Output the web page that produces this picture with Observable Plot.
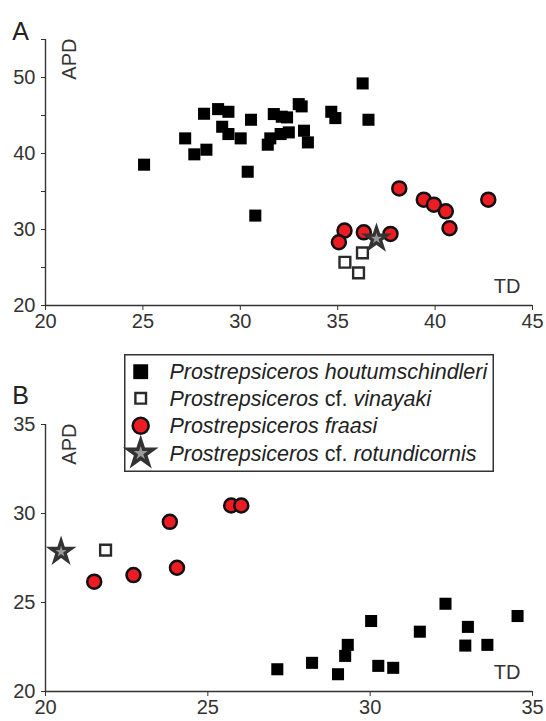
<!DOCTYPE html>
<html>
<head>
<meta charset="utf-8">
<script src="https://cdn.jsdelivr.net/npm/d3@7"></script>
<script src="https://cdn.jsdelivr.net/npm/@observablehq/plot@0.6"></script>
<style>
  html, body { margin: 0; padding: 0; background: #fff; }
  #wrap { position: relative; width: 546px; height: 721px; font-family: "Liberation Sans", Arial, Helvetica, sans-serif; }
  #panelA { position: absolute; left: 0; top: 0; }
  #panelB { position: absolute; left: 0; top: 340px; }
  #legend { position: absolute; left: 124px; top: 354px; }
</style>
</head>
<body>
<div id="wrap">
  <div id="panelA"></div>
  <div id="panelB"></div>
  <div id="legend"></div>
</div>
<script>
// ---------- Data ----------
const species = [
  "Prostrepsiceros houtumschindleri",
  "Prostrepsiceros cf. vinayaki",
  "Prostrepsiceros fraasi",
  "Prostrepsiceros cf. rotundicornis"
];

// Panel A
const aHoutTD  = [25.06, 27.17, 27.64, 28.26, 28.14, 28.86, 29.39, 29.07, 29.39, 30.02, 30.55, 30.38, 30.77, 31.72, 32.13, 32.40, 31.41, 31.54, 32.07, 32.49, 33.00, 33.15, 33.27, 33.47, 34.67, 34.88, 36.28, 36.58];
const aHoutAPD = [38.53, 41.99, 39.89, 40.50, 45.23, 45.84, 45.49, 43.52, 42.56, 41.99, 44.44, 37.60, 31.83, 45.19, 44.84, 44.75, 41.16, 41.99, 42.56, 42.78, 46.50, 46.20, 43.00, 41.46, 45.49, 44.66, 49.22, 44.44];
const aVinTD   = [35.37, 36.07, 36.27];
const aVinAPD  = [25.69, 24.29, 26.93];
const aFraTD   = [38.16, 39.42, 39.94, 40.55, 40.74, 42.73, 35.35, 35.06, 36.34, 37.71];
const aFraAPD  = [35.41, 33.93, 33.27, 32.39, 30.16, 33.93, 29.86, 28.32, 29.63, 29.42];
const aRotTD   = [36.99];
const aRotAPD  = [28.80];

// Panel B
const bHoutTD  = [27.14, 28.21, 29.01, 29.23, 29.31, 30.03, 30.25, 30.71, 31.53, 32.32, 32.93, 33.01, 33.61, 34.54];
const bHoutAPD = [21.25, 21.61, 20.97, 22.00, 22.62, 23.96, 21.44, 21.33, 23.36, 24.93, 22.58, 23.63, 22.62, 24.24];
const bVinTD   = [21.85];
const bVinAPD  = [27.94];
const bFraTD   = [21.50, 22.71, 23.83, 24.05, 25.72, 26.03];
const bFraAPD  = [26.17, 26.54, 29.53, 26.95, 30.45, 30.45];
const bRotTD   = [20.48];
const bRotAPD  = [27.85];

// Axis ticks
const aXTicks = [20, 25, 30, 35, 40, 45];
const aYTicks = [20, 25, 30, 35, 40, 45, 50, 55];
const aYLabels = [20, 30, 40, 50];
const bXTicks = [20, 25, 30, 35];
const bYTicks = [20, 25, 30, 35];

// ---------- Helpers ----------
const rows = (xs, ys) => xs.map((x, i) => ({td: x, apd: ys[i]}));
const FONT = "'Liberation Sans', Arial, Helvetica, sans-serif";
const AX = "#333";

const styleOpts = {
  houtumschindleri: {symbol: "square", r: 6.8, fill: "#000", stroke: "none"},
  vinayaki: {symbol: "square", r: 6.1, fill: "#fff", stroke: "#2a2a2a", strokeWidth: 2.4},
  fraasi: {symbol: "circle", r: 7, fill: "#ec1c24", stroke: "#111", strokeWidth: 2.5},
  rotundicornis: {symbol: "star", r: 6.6, fill: "#9a9a9a", stroke: "#333", strokeWidth: 3.2}
};

function panel({xDomain, yDomain, xTicks, yTicks, yFmt, height, marginTop, marginBottom, letter, letterDy, hout, vin, fra, rot}) {
  return Plot.plot({
    width: 546,
    height,
    marginLeft: 45,
    marginRight: 14,
    marginTop,
    marginBottom,
    style: {fontFamily: FONT, fontSize: "20px", color: AX, background: "transparent", overflow: "visible"},
    x: {domain: xDomain, ticks: xTicks, tickSize: 5, tickPadding: 3, label: null},
    y: {domain: yDomain, ticks: yTicks, tickSize: 4, tickPadding: 6, tickFormat: yFmt, label: null},
    marks: [
      Plot.ruleX([xDomain[0]], {stroke: AX, strokeWidth: 1.4}),
      Plot.ruleY([yDomain[0]], {stroke: AX, strokeWidth: 1.4}),
      Plot.dot(hout, {x: "td", y: "apd", ...styleOpts.houtumschindleri}),
      Plot.dot(vin, {x: "td", y: "apd", ...styleOpts.vinayaki}),
      Plot.dot(fra, {x: "td", y: "apd", ...styleOpts.fraasi}),
      Plot.dot(rot, {x: "td", y: "apd", ...styleOpts.rotundicornis}),
      Plot.text(["APD"], {frameAnchor: "top-left", dx: 16.7, dy: -1, rotate: -90, textAnchor: "end", fontSize: 20, fill: AX}),
      Plot.text(["TD"], {frameAnchor: "bottom-right", dx: -12, dy: -13, textAnchor: "end", fontSize: 20, fill: AX}),
      Plot.text([letter], {frameAnchor: "top-left", dx: -25, dy: letterDy, textAnchor: "middle", fontSize: 25, fill: "#222"})
    ]
  });
}

document.getElementById("panelA").appendChild(panel({
  xDomain: [20, 45], yDomain: [20, 55],
  xTicks: aXTicks, yTicks: aYTicks,
  yFmt: d => aYLabels.includes(d) ? String(d) : "",
  height: 340, marginTop: 39, marginBottom: 35, letter: "A", letterDy: -17,
  hout: rows(aHoutTD, aHoutAPD), vin: rows(aVinTD, aVinAPD),
  fra: rows(aFraTD, aFraAPD), rot: rows(aRotTD, aRotAPD)
}));

document.getElementById("panelB").appendChild(panel({
  xDomain: [20, 35], yDomain: [20, 35],
  xTicks: bXTicks, yTicks: bYTicks,
  yFmt: d => String(d),
  height: 381, marginTop: 84, marginBottom: 30, letter: "B", letterDy: -38,
  hout: rows(bHoutTD, bHoutAPD), vin: rows(bVinTD, bVinAPD),
  fra: rows(bFraTD, bFraAPD), rot: rows(bRotTD, bRotAPD)
}));

// ---------- Legend ----------
(function legend() {
  const W = 370, H = 118;
  const svg = d3.create("svg").attr("width", W).attr("height", H)
    .style("font-family", FONT).style("overflow", "visible");
  svg.append("rect").attr("x", 0.75).attr("y", 0.75).attr("width", W - 1.5).attr("height", H - 1.5)
    .attr("fill", "#fff").attr("stroke", "#333").attr("stroke-width", 1.5);
  const keys = ["houtumschindleri", "vinayaki", "fraasi", "rotundicornis"];
  const legR = {houtumschindleri: 8.4, vinayaki: 6.0, fraasi: 8, rotundicornis: 7.8};
  const legSW = {houtumschindleri: 0, vinayaki: 2.4, fraasi: 2.5, rotundicornis: 3.6};
  const symMap = {square: d3.symbolSquare, circle: d3.symbolCircle, star: d3.symbolStar};
  const rowY = [17.7, 44.3, 71.7, 99.3];
  keys.forEach((k, i) => {
    const s = styleOpts[k];
    const r = legR[k];
    svg.append("path")
      .attr("transform", `translate(16.7,${rowY[i]})`)
      .attr("d", d3.symbol(symMap[s.symbol], Math.PI * r * r)())
      .attr("fill", s.fill).attr("stroke", s.stroke)
      .attr("stroke-width", legSW[k]);
    const name = species[i];
    const t = svg.append("text").attr("x", 45.4).attr("y", rowY[i])
      .attr("dy", "0.36em").attr("font-size", 21.5).attr("fill", "#222");
    const parts = name.split(" ");
    parts.forEach((p, j) => {
      t.append("tspan").text((j > 0 ? " " : "") + p)
        .attr("font-style", p === "cf." ? "normal" : "italic");
    });
  });
  document.getElementById("legend").appendChild(svg.node());
})();
</script>
</body>
</html>
